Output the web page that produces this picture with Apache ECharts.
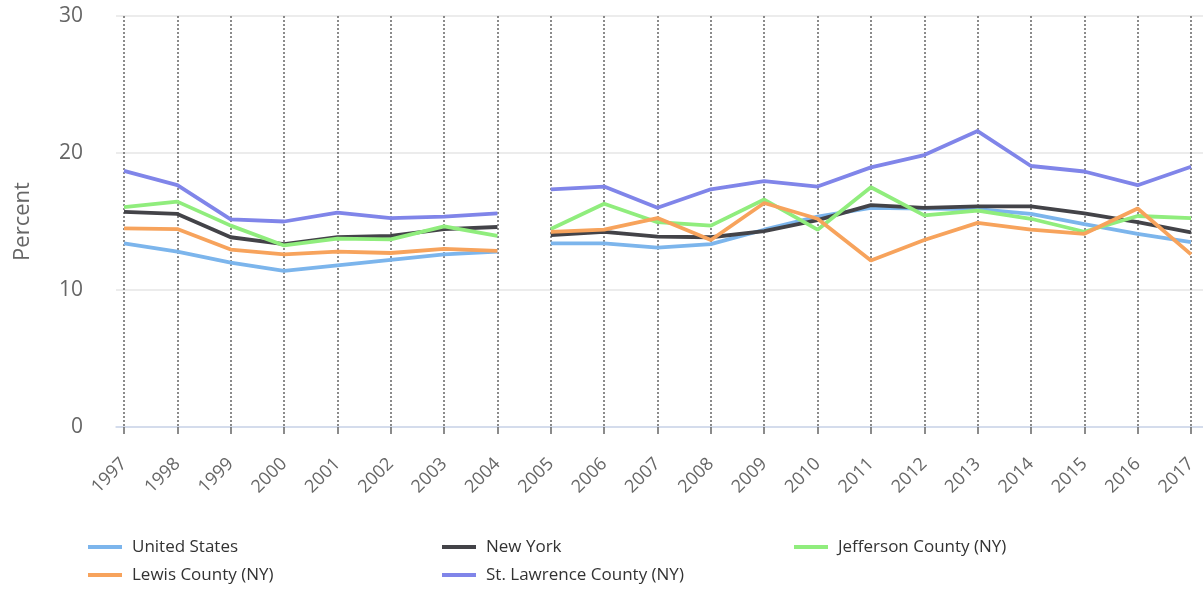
<!DOCTYPE html>
<html><head><meta charset="utf-8">
<script src="https://cdn.jsdelivr.net/npm/echarts@6/dist/echarts.min.js"></script>
<style>html,body{margin:0;padding:0;background:#fff}#c{width:1203px;height:589px}</style>
</head><body><div id="c"></div><script>
const years = ['1997','1998','1999','2000','2001','2002','2003','2004','2005','2006','2007','2008','2009','2010','2011','2012','2013','2014','2015','2016','2017'];
const breakAfter = '2004';
const unitedStates = [13.4,12.8,12.0,11.4,11.8,12.2,12.6,12.8,13.4,13.4,13.1,13.35,14.4,15.35,16.0,15.95,15.9,15.55,14.8,14.1,13.5];
const newYork      = [15.7,15.55,13.85,13.35,13.85,13.95,14.45,14.6,14.0,14.25,13.9,13.85,14.3,15.1,16.2,16.0,16.1,16.1,15.6,14.95,14.2];
const jefferson    = [16.05,16.45,14.7,13.25,13.75,13.7,14.65,13.95,14.45,16.3,14.95,14.7,16.6,14.4,17.5,15.45,15.8,15.2,14.25,15.4,15.25];
const lewis        = [14.5,14.45,12.95,12.6,12.8,12.7,13.0,12.85,14.25,14.4,15.25,13.65,16.35,15.2,12.15,13.65,14.9,14.4,14.1,15.95,12.6];
const stLawrence   = [18.7,17.65,15.15,15.0,15.65,15.25,15.35,15.6,17.35,17.55,16.0,17.35,17.95,17.55,18.95,19.85,21.6,19.05,18.65,17.65,19.0];
const seriesNames  = ['United States','New York','Jefferson County (NY)','Lewis County (NY)','St. Lawrence County (NY)'];
const seriesColors = ['#7cb5ec','#434348','#90ed7d','#f7a35c','#8085e9'];
const seriesData   = [unitedStates,newYork,jefferson,lewis,stLawrence];

const cut = years.indexOf(breakAfter) + 1;
const series = [];
seriesData.forEach((vals, i) => {
  const first = vals.map((v, j) => j < cut ? v : null);
  const second = vals.map((v, j) => j >= cut ? v : null);
  [first, second].forEach(d => series.push({
    type: 'line', name: seriesNames[i], data: d, xAxisIndex: 1, yAxisIndex: 1,
    symbol: 'none', showSymbol: false, connectNulls: false,
    lineStyle: { width: 3.8, color: seriesColors[i] },
    itemStyle: { color: seriesColors[i] },
    emphasis: { disabled: true }, z: 2 + i
  }));
});

const legendText = { fontFamily: 'Open Sans', fontSize: 17, color: '#333', lineHeight: 20, padding: [0,0,0,5] };
// legend slots: [left, top] for each series in a 3-column grid
const legendSlots = [[88,537],[442,537],[794,537],[88,565],[442,565]];
const legends = seriesNames.map((n, i) => ({
  left: legendSlots[i][0], top: legendSlots[i][1], itemWidth: 34, itemHeight: 4,
  icon: 'rect', data: [n], textStyle: legendText, padding: 0
}));

const chart = echarts.init(document.getElementById('c'), null, { renderer: 'canvas' });
chart.setOption({
  animation: false,
  grid: [
    { left: 116, right: 0, top: 16, bottom: 162 },
    { left: 124, right: 12, top: 16, bottom: 162 }
  ],
  xAxis: [
    { gridIndex: 0, type: 'value', min: 0, max: 1,
      axisLine: { show: true, lineStyle: { color: '#ccd6eb', width: 1.5 } },
      axisTick: { show: false }, axisLabel: { show: false }, splitLine: { show: false } },
    { gridIndex: 1, type: 'category', data: years, boundaryGap: false,
      axisLine: { show: false },
      axisTick: { show: true, interval: 0, length: 7, lineStyle: { color: '#666', width: 1.5 } },
      axisLabel: { interval: 0, rotate: 45, margin: 34, fontFamily: 'Open Sans', fontSize: 18, color: '#666' },
      splitLine: { show: true, interval: 0, lineStyle: { type: [2, 2], color: '#666', width: 1.5 } } }
  ],
  yAxis: [
    { gridIndex: 0, type: 'value', min: 0, max: 30, interval: 10,
      axisLine: { show: false }, axisTick: { show: false },
      axisLabel: { fontFamily: 'Open Sans', fontSize: 21, color: '#666', margin: 33 },
      splitLine: { lineStyle: { color: '#e6e6e6', width: 1.5 } },
      name: 'Percent', nameLocation: 'middle', nameGap: 82,
      nameTextStyle: { fontFamily: 'Open Sans', fontSize: 22, color: '#666' } },
    { gridIndex: 1, type: 'value', min: 0, max: 30, show: false, splitLine: { show: false } }
  ],
  legend: legends,
  series: series
});
</script></body></html>
